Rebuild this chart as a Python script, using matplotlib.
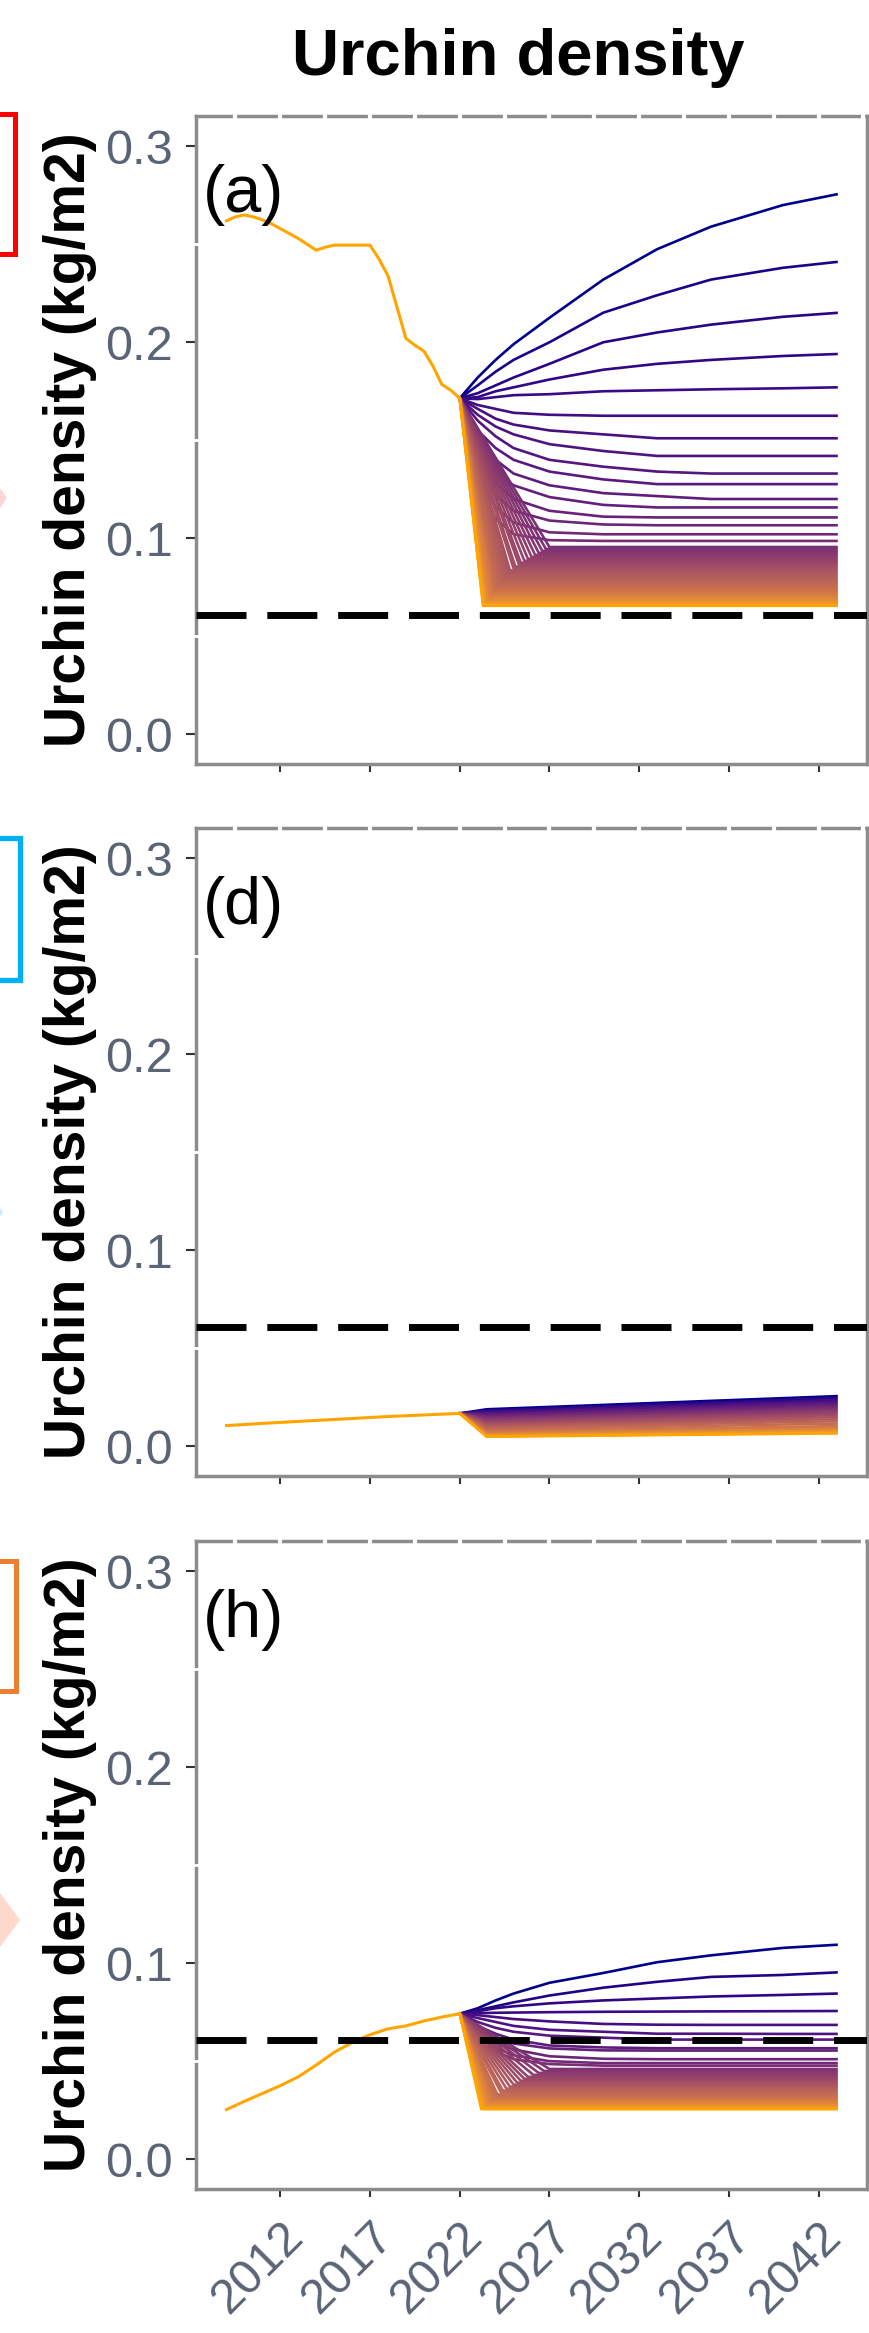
import numpy as np
import matplotlib.pyplot as plt
from matplotlib import font_manager
from matplotlib.colors import to_rgb

# ---------------- data (kg/m2) ----------------
hist_years_a = [2009, 2009.5, 2010, 2010.5, 2011, 2011.5, 2012, 2012.5, 2013, 2013.5,
                2014, 2014.5, 2015, 2016, 2017, 2017.5, 2018, 2018.5, 2019, 2019.5,
                2020, 2020.5, 2021, 2021.5, 2022]
hist_vals_a = [0.262, 0.264, 0.265, 0.264, 0.2625, 0.2605, 0.258, 0.2555, 0.253, 0.250,
               0.247, 0.2485, 0.2496, 0.2496, 0.2496, 0.2425, 0.234, 0.218, 0.202, 0.1985,
               0.1955, 0.188, 0.1785, 0.1755, 0.1714]

hist_years_d = [2009, 2010, 2011, 2012, 2013, 2014, 2015, 2016, 2017, 2018, 2019, 2020, 2021, 2022]
hist_vals_d = [0.0105, 0.0110, 0.0116, 0.0121, 0.0126, 0.0131, 0.0136, 0.0141, 0.0146,
               0.0151, 0.0155, 0.0159, 0.0163, 0.0167]

hist_years_h = [2009, 2010, 2011, 2012, 2013, 2014, 2015, 2016, 2017, 2018, 2019, 2020, 2021, 2022]
hist_vals_h = [0.0253, 0.0295, 0.0335, 0.0375, 0.042, 0.048, 0.0545, 0.0595, 0.0635,
               0.0665, 0.068, 0.0705, 0.0725, 0.0742]

threshold = 0.061

# projections: waypoints of the lines that can be told apart
proj_years = [2022, 2023, 2024, 2025, 2027, 2030, 2033, 2036, 2040, 2043]
proj_a = [
    [0.1714, 0.182, 0.191, 0.199, 0.2125, 0.232, 0.2475, 0.259, 0.270, 0.2755],
    [0.1714, 0.178, 0.185, 0.191, 0.200, 0.2151, 0.224, 0.232, 0.238, 0.241],
    [0.1714, 0.174, 0.178, 0.182, 0.189, 0.200, 0.205, 0.209, 0.213, 0.215],
    [0.1714, 0.172, 0.175, 0.177, 0.181, 0.186, 0.189, 0.191, 0.193, 0.194],
    [0.1714, 0.171, 0.172, 0.173, 0.1735, 0.175, 0.1755, 0.176, 0.1765, 0.177],
    [0.1714, 0.168, 0.166, 0.164, 0.163, 0.1625, 0.1625, 0.1625, 0.1625, 0.1625],
    [0.1714, 0.166, 0.161, 0.158, 0.155, 0.153, 0.151, 0.151, 0.151, 0.151],
    [0.1714, 0.163, 0.157, 0.153, 0.148, 0.1445, 0.142, 0.142, 0.142, 0.142],
    [0.1714, 0.160, 0.152, 0.146, 0.140, 0.1365, 0.134, 0.133, 0.133, 0.133],
    [0.1714, 0.155, 0.146, 0.140, 0.134, 0.130, 0.1276, 0.1276, 0.1276, 0.1276],
    [0.1714, 0.150, 0.140, 0.133, 0.127, 0.123, 0.1215, 0.120, 0.120, 0.120],
    [0.1714, 0.145, 0.134, 0.127, 0.121, 0.117, 0.1157, 0.1157, 0.1157, 0.1157],
    [0.1714, 0.140, 0.128, 0.120, 0.114, 0.111, 0.1106, 0.1106, 0.1106, 0.1106],
    [0.1714, 0.135, 0.122, 0.114, 0.109, 0.107, 0.1066, 0.1066, 0.1066, 0.1066],
    [0.1714, 0.130, 0.116, 0.108, 0.103, 0.102, 0.102, 0.102, 0.102, 0.102],
    [0.1714, 0.125, 0.110, 0.102, 0.099, 0.0986, 0.0986, 0.0986, 0.0986, 0.0986],
]
# dense band: level reached and the year it is reached
band_final_a = [0.0955, 0.0945, 0.0935, 0.0925, 0.0915, 0.0905, 0.0895, 0.0885, 0.0875, 0.0865,
                0.0855, 0.0845, 0.0835, 0.0825, 0.0815, 0.0805, 0.0795, 0.0785, 0.0775, 0.0765,
                0.0755, 0.0745, 0.0737, 0.0729, 0.0721, 0.0714, 0.0707, 0.0700, 0.0694, 0.0688,
                0.0682, 0.0677, 0.0672, 0.0668, 0.0664, 0.0661, 0.0658, 0.0656, 0.0655]
band_knee_a = [2027.0, 2026.8, 2026.6, 2026.4, 2026.2, 2026.0, 2025.8, 2025.6, 2025.4, 2025.3,
               2025.1, 2025.0, 2024.8, 2024.7, 2024.6, 2024.5, 2024.4, 2024.3, 2024.2, 2024.1,
               2024.0, 2023.95, 2023.9, 2023.85, 2023.8, 2023.75, 2023.7, 2023.65, 2023.6, 2023.55,
               2023.5, 2023.47, 2023.44, 2023.41, 2023.38, 2023.35, 2023.33, 2023.31, 2023.3]

proj_years_d = [2022, 2023.5, 2043]
proj_d = [
    [0.0167, 0.0188, 0.0255], [0.0167, 0.0181, 0.0245], [0.0167, 0.0174, 0.0235],
    [0.0167, 0.0167, 0.0225], [0.0167, 0.0160, 0.0215], [0.0167, 0.0153, 0.0205],
    [0.0167, 0.0146, 0.0196], [0.0167, 0.0139, 0.0187], [0.0167, 0.0132, 0.0178],
    [0.0167, 0.0125, 0.0168], [0.0167, 0.0117, 0.0158], [0.0167, 0.0109, 0.0148],
    [0.0167, 0.0101, 0.0138], [0.0167, 0.0093, 0.0127], [0.0167, 0.0084, 0.0115],
    [0.0167, 0.0075, 0.0102], [0.0167, 0.0068, 0.0094], [0.0167, 0.0062, 0.0086],
    [0.0167, 0.0057, 0.0079], [0.0167, 0.0053, 0.0073], [0.0167, 0.0050, 0.0068],
    [0.0167, 0.0048, 0.0065],
]

proj_h = [
    [0.0742, 0.077, 0.081, 0.0845, 0.090, 0.095, 0.1005, 0.104, 0.1078, 0.1094],
    [0.0742, 0.076, 0.078, 0.080, 0.0835, 0.0875, 0.0905, 0.093, 0.094, 0.0953],
    [0.0742, 0.0755, 0.077, 0.078, 0.0795, 0.081, 0.082, 0.083, 0.0838, 0.0845],
    [0.0742, 0.0745, 0.0747, 0.0748, 0.075, 0.0752, 0.0753, 0.0754, 0.0755, 0.0756],
    [0.0742, 0.0735, 0.0725, 0.0715, 0.0703, 0.069, 0.0686, 0.0685, 0.0685, 0.0685],
    [0.0742, 0.072, 0.070, 0.068, 0.066, 0.065, 0.064, 0.064, 0.0639, 0.0639],
    [0.0742, 0.070, 0.067, 0.065, 0.063, 0.062, 0.061, 0.061, 0.061, 0.061],
    [0.0742, 0.068, 0.064, 0.061, 0.058, 0.057, 0.0566, 0.0566, 0.0566, 0.0566],
    [0.0742, 0.066, 0.062, 0.059, 0.0565, 0.0555, 0.0554, 0.0554, 0.0554, 0.0554],
    [0.0742, 0.064, 0.059, 0.056, 0.0525, 0.0512, 0.051, 0.051, 0.051, 0.051],
    [0.0742, 0.062, 0.057, 0.053, 0.050, 0.049, 0.049, 0.049, 0.049, 0.049],
    [0.0742, 0.060, 0.055, 0.051, 0.0485, 0.0477, 0.0477, 0.0477, 0.0477, 0.0477],
]
band_final_h = [0.046, 0.045, 0.044, 0.043, 0.042, 0.041, 0.040, 0.039, 0.038, 0.037, 0.036,
                0.035, 0.034, 0.033, 0.0322, 0.0314, 0.0306, 0.0298, 0.0291, 0.0284, 0.0278,
                0.0272, 0.0267, 0.0263, 0.0260, 0.0257, 0.0255]
band_knee_h = [2027.0, 2026.7, 2026.4, 2026.1, 2025.8, 2025.6, 2025.4, 2025.2, 2025.0, 2024.8,
               2024.6, 2024.4, 2024.3, 2024.1, 2024.0, 2023.9, 2023.8, 2023.75, 2023.7, 2023.6,
               2023.55, 2023.5, 2023.4, 2023.35, 2023.3, 2023.25, 2023.2]

x_ticks = [2012, 2017, 2022, 2027, 2032, 2037, 2042]
y_ticks = [0.0, 0.1, 0.2, 0.3]
panel_tags = ['(a)', '(d)', '(h)']
bracket_colors = ['#ff0000', '#00b0f0', '#ed7d31']

# ---------------- helpers ----------------
M = np.array([[0.4124, 0.3576, 0.1805], [0.2126, 0.7152, 0.0722], [0.0193, 0.1192, 0.9505]])
WHITE = np.array([0.95047, 1.0, 1.08883])


def to_lab(c):
    c = np.array(to_rgb(c))
    lin = np.where(c <= 0.04045, c / 12.92, ((c + 0.055) / 1.055) ** 2.4)
    xyz = M @ lin / WHITE
    f = np.where(xyz > 0.008856, np.cbrt(xyz), 7.787 * xyz + 16 / 116)
    return np.array([116 * f[1] - 16, 500 * (f[0] - f[1]), 200 * (f[1] - f[2])])


def from_lab(lab):
    fy = (lab[0] + 16) / 116
    f = np.array([fy + lab[1] / 500, fy, fy - lab[2] / 200])
    xyz = np.where(f > 0.2069, f ** 3, (f - 16 / 116) / 7.787) * WHITE
    lin = np.clip(np.linalg.inv(M) @ xyz, 0, 1)
    c = np.where(lin <= 0.0031308, 12.92 * lin, 1.055 * lin ** (1 / 2.4) - 0.055)
    return np.clip(c, 0, 1)


LOW, HIGH = to_lab('#FFA500'), to_lab('#00008B')


def gradient(t):
    return from_lab(LOW + (HIGH - LOW) * t)


def collect(years, rows, band_final=(), band_knee=()):
    lines = [(years, r) for r in rows]
    start = rows[0][0]
    for v, k in zip(band_final, band_knee):
        lines.append(([2022, k, 2043], [start, v, v]))
    lines.sort(key=lambda l: -l[1][-1])
    return lines


fonts = {f.name for f in font_manager.fontManager.ttflist}
narrow = 'Liberation Sans Narrow' if 'Liberation Sans Narrow' in fonts else 'Liberation Sans'
plt.rcParams['font.family'] = ['Liberation Sans', 'DejaVu Sans']

W, H = 870, 2333
fig = plt.figure(figsize=(W / 100, H / 100), dpi=100)

ax_left, ax_right, ph = 196, 867, 647.5
tops = [116, 828, 1541]
panels = [
    (hist_years_a, hist_vals_a, collect(proj_years, proj_a, band_final_a, band_knee_a)),
    (hist_years_d, hist_vals_d, collect(proj_years_d, proj_d)),
    (hist_years_h, hist_vals_h, collect(proj_years, proj_h, band_final_h, band_knee_h)),
]
tick_color = '#5a6476'

for i, (hx, hy, lines) in enumerate(panels):
    top = tops[i]
    ax = fig.add_axes([ax_left / W, 1 - (top + ph) / H, (ax_right - ax_left) / W, ph / H])
    n = len(lines)
    for j, (lx, ly) in enumerate(lines):
        ax.plot(lx, ly, color=gradient(1 - j / (n - 1)), lw=1.9, zorder=3)
    ax.plot(hx, hy, color='#FFA500', lw=2.2, zorder=4)
    ax.axhline(threshold, color='black', lw=5, ls=(0, (7.2, 3.0)), zorder=5)

    ax.set_xlim(2007.3, 2044.7)
    ax.set_ylim(-0.015, 0.3155)
    ax.set_xticks(x_ticks)
    ax.set_yticks(y_ticks)
    ax.set_yticklabels([f'{v:.1f}' for v in y_ticks], family=narrow, fontsize=35, color=tick_color)
    for s in ax.spines.values():
        s.set_color('#8c8c8c')
        s.set_linewidth(2.5)
    ax.tick_params(axis='y', length=7, width=1.5, color='#333333', pad=10)
    ax.tick_params(axis='x', length=6, width=1.5, color='#333333', pad=12)
    if i < 2:
        ax.tick_params(axis='x', labelbottom=False)
    else:
        ax.set_xticklabels([str(t) for t in x_ticks], rotation=45, ha='right', va='top',
                           rotation_mode='anchor', family=narrow, fontsize=35, color=tick_color)

    # white gridlines showing through the top and left border
    for gx in np.arange(2009.5, 2044.6, 2.5):
        ax.plot([gx, gx], [0.985, 1.015], transform=ax.get_xaxis_transform(), color='white',
                lw=3, clip_on=False, zorder=2.6)
    for gy in [0.05, 0.15, 0.25]:
        ax.plot([-0.01, 0.01], [gy, gy], transform=ax.get_yaxis_transform(), color='white',
                lw=2, clip_on=False, zorder=2.6)

# overlay in pixel units for the texts and the left-edge fragments
overlay = fig.add_axes([0, 0, 1, 1])
overlay.set_zorder(10)
overlay.set_xlim(0, W)
overlay.set_ylim(H, 0)
overlay.axis('off')

for i, top in enumerate(tops):
    overlay.text(203, top + 48, panel_tags[i], family=narrow, fontsize=48, ha='left', va='top')
    overlay.text(70, top + ph / 2, 'Urchin density (kg/m2)', rotation=90, ha='center',
                 va='center', fontsize=41, fontweight='bold')

overlay.text(518, 75, 'Urchin density', ha='center', va='baseline', fontsize=47, fontweight='bold')

overlay.plot([0, 15.5, 15.5, 0], [114, 114, 254, 254], color=bracket_colors[0], lw=3.6,
             solid_joinstyle='miter')
overlay.plot([0, 20, 20, 0], [837.5, 837.5, 980, 980], color=bracket_colors[1], lw=3.8,
             solid_joinstyle='miter')
overlay.plot([0, 16.5, 16.5, 0], [1560.5, 1560.5, 1691, 1691], color=bracket_colors[2], lw=3.6,
             solid_joinstyle='miter')
overlay.fill([0, 7, 0], [488, 498, 508], color='#ffd6d6', lw=0)
overlay.fill([0, 3, 0], [1208, 1212, 1217], color='#cdeefc', lw=0)
overlay.fill([0, 20, 0], [1893, 1920, 1947], color='#fdd9cc', lw=0)

fig.savefig('out.png', dpi=100)
